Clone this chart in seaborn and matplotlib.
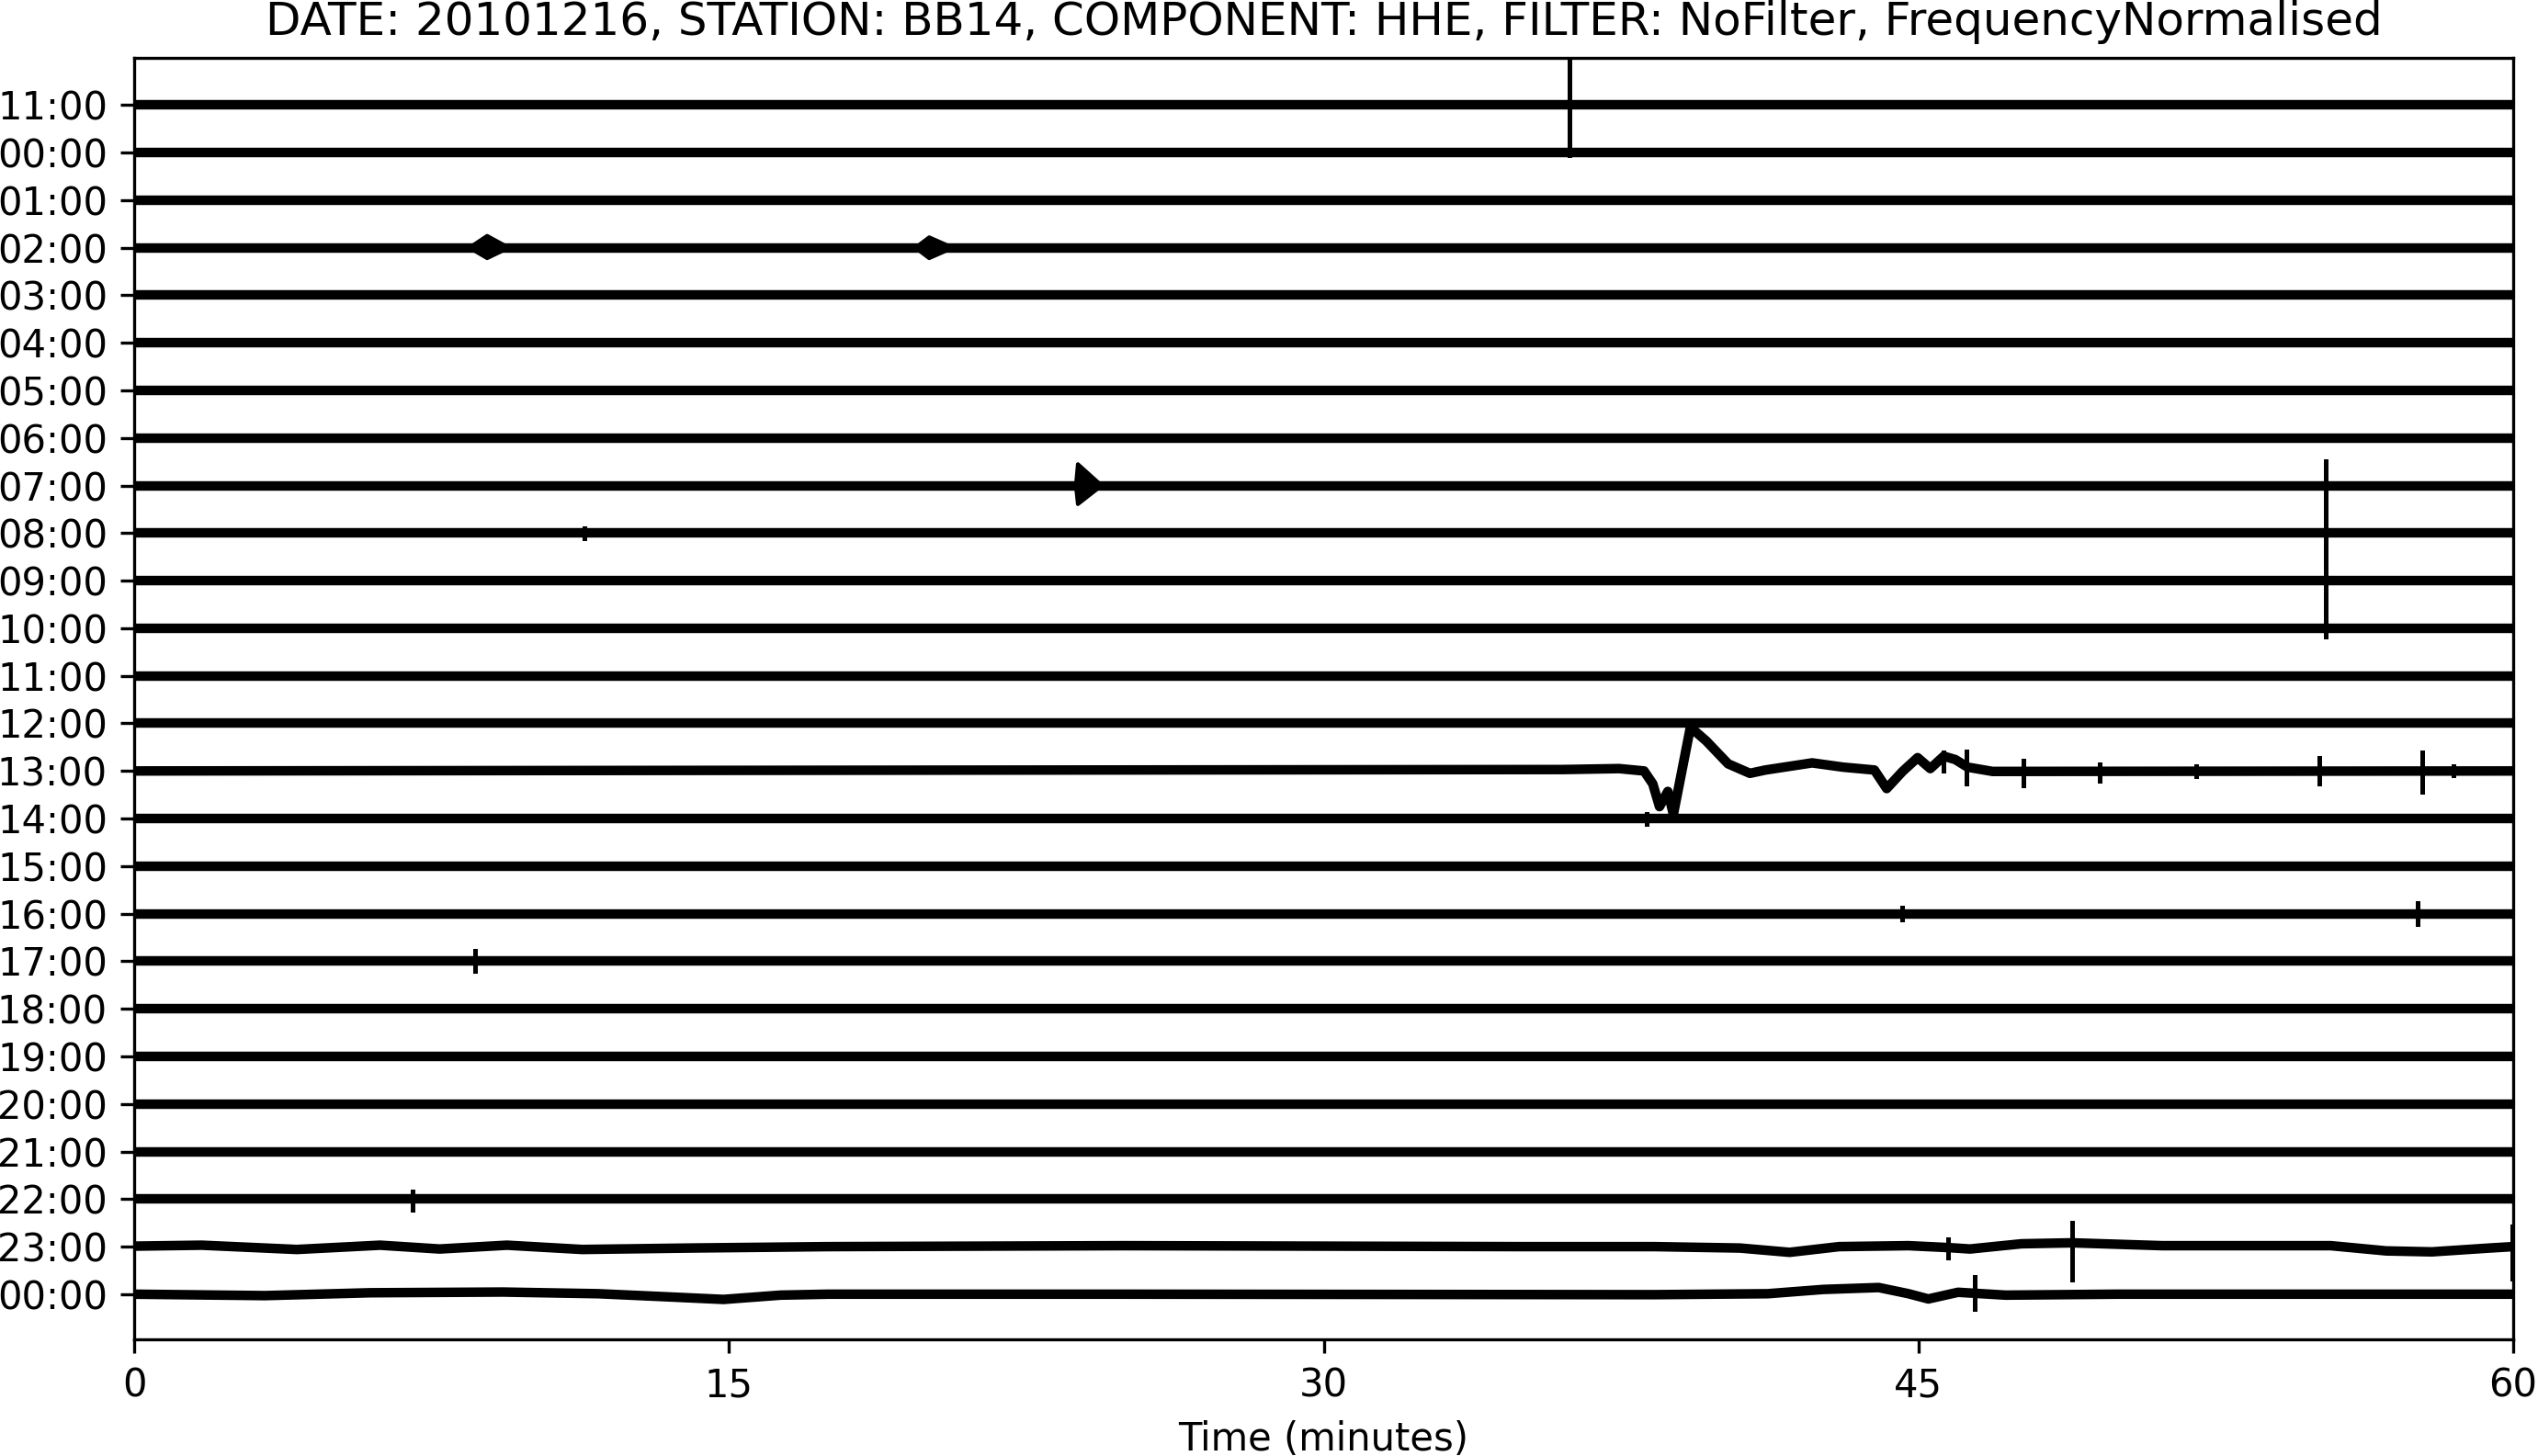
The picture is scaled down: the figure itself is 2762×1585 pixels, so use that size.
import matplotlib
matplotlib.use("Agg")
import matplotlib.pyplot as plt
import pandas as pd
import seaborn as sns

# ---------------- data ----------------
hour_labels = ["11:00", "00:00", "01:00", "02:00", "03:00", "04:00", "05:00",
               "06:00", "07:00", "08:00", "09:00", "10:00", "11:00", "12:00",
               "13:00", "14:00", "15:00", "16:00", "17:00", "18:00", "19:00",
               "20:00", "21:00", "22:00", "23:00", "00:00"]
x_ticks = [0, 15, 30, 45, 60]

# flat traces (rows without visible drift)
flat_minutes = [0, 60]
flat_amp = [0.0, 0.0]

# 13:00 row (index 14): large local event waveform (amplitude in row units, + = up)
row14_minutes = [0, 36.04, 37.45, 38.08, 38.30, 38.47, 38.68, 38.82, 39.25, 39.65,
                 40.20, 40.75, 41.14, 42.32, 43.10, 43.89, 44.20, 44.60, 44.98,
                 45.30, 45.64, 45.93, 46.24, 46.87, 60]
row14_amp = [0.0, 0.03, 0.05, 0.0, -0.27, -0.75, -0.43, -0.91, 0.92, 0.63,
             0.15, -0.05, 0.02, 0.17, 0.08, 0.02, -0.37, -0.01, 0.28,
             0.05, 0.31, 0.24, 0.08, -0.01, 0.0]

# 23:00 row (index 24): slow drift
row24_minutes = [0, 1.7, 4.1, 6.2, 7.7, 9.4, 11.3, 14.0, 17.5, 25.0, 30.0, 35.0,
                 38.35, 40.5, 41.75, 43.0, 44.75, 45.75, 46.3, 47.6, 48.88, 51.15,
                 52.56, 55.4, 56.8, 57.95, 59.4, 60]
row24_amp = [0.01, 0.03, -0.06, 0.03, -0.05, 0.03, -0.06, -0.03, 0.0, 0.02, 0.01, 0.0,
             0.0, -0.03, -0.12, 0.0, 0.02, -0.02, -0.05, 0.06, 0.08, 0.02,
             0.02, 0.02, -0.09, -0.11, -0.03, 0.0]

# 00:00 row (index 25): slow drift
row25_minutes = [0, 3.3, 5.95, 9.3, 11.7, 13.3, 14.86, 16.3, 17.5, 25.0, 38.35,
                 41.2, 42.6, 44.0, 44.75, 45.25, 46.0, 47.2, 50.0, 60]
row25_amp = [0.0, -0.03, 0.03, 0.045, 0.01, -0.05, -0.11, -0.02, 0.0, 0.0, -0.01,
             0.01, 0.10, 0.14, 0.01, -0.10, 0.04, -0.02, 0.0, 0.0]

# sharp spikes: row index, minute, extent up, extent down (row units)
spike_row = [0, 9, 9, 14, 14, 14, 14, 14, 14, 14, 14, 15, 17, 17, 18, 23, 24, 24, 24, 25]
spike_min = [36.2, 55.27, 11.35, 45.64, 46.22, 47.65, 49.57, 52.0, 55.1, 57.7, 58.5,
             38.15, 44.6, 57.6, 8.6, 7.02, 45.75, 48.88, 59.97, 46.43]
spike_up = [1.0, 1.52, 0.10, 0.40, 0.42, 0.21, 0.15, 0.10, 0.28, 0.40, 0.10,
            0.10, 0.12, 0.22, 0.22, 0.16, 0.15, 0.50, 0.43, 0.37]
spike_down = [1.05, 2.17, 0.10, 0.0, 0.27, 0.30, 0.20, 0.12, 0.27, 0.43, 0.10,
              0.12, 0.12, 0.22, 0.20, 0.23, 0.23, 0.69, 0.67, 0.31]

# small wave bursts (spindles): row index, onset/peak minute, extent up, extent down,
# lead-in and coda durations (minutes)
burst_row = [3, 3, 8]
burst_min = [8.9, 20.05, 23.8]
burst_up = [0.25, 0.22, 0.45]
burst_down = [0.22, 0.22, 0.39]
burst_lead = [0.45, 0.35, 0.05]
burst_coda = [0.55, 0.6, 0.6]

title = "DATE: 20101216, STATION: BB14, COMPONENT: HHE, FILTER: NoFilter, FrequencyNormalised"

# ---------------- build tables ----------------
drift_paths = {14: (row14_minutes, row14_amp),
               24: (row24_minutes, row24_amp),
               25: (row25_minutes, row25_amp)}

trace_records = []
for r in range(len(hour_labels)):
    mins, amps = drift_paths.get(r, (flat_minutes, flat_amp))
    for m, a in zip(mins, amps):
        trace_records.append({"trace": r, "minute": m, "y": r - a})
traces = pd.DataFrame(trace_records)

spike_records = []
for i, (r, m, u, d) in enumerate(zip(spike_row, spike_min, spike_up, spike_down)):
    spike_records.append({"spike": i, "minute": m, "y": r - u})
    spike_records.append({"spike": i, "minute": m, "y": r + d})
spikes = pd.DataFrame(spike_records)

burst_records = []
for i, (r, m, u, d, lead, coda) in enumerate(zip(burst_row, burst_min, burst_up,
                                                 burst_down, burst_lead, burst_coda)):
    for bx, by in [(m - lead, r), (m, r - u), (m + coda, r), (m, r + d), (m - lead, r)]:
        burst_records.append({"burst": i, "minute": bx, "y": by})
bursts = pd.DataFrame(burst_records)

# ---------------- plot ----------------
plt.rcParams["font.family"] = ["DejaVu Sans"]
fig = plt.figure(figsize=(2762 / 300, 1585 / 300), dpi=300)
ax = fig.add_axes([0.0529, 0.0801, 0.9373, 0.8801])

sns.lineplot(data=traces, x="minute", y="y", units="trace", estimator=None,
             sort=False, color="black", linewidth=2.5, ax=ax, legend=False)
# spindle bursts: outline with seaborn, filled from the same table
sns.lineplot(data=bursts, x="minute", y="y", units="burst", estimator=None,
             sort=False, color="black", linewidth=1.0, ax=ax, legend=False)
for _, grp in bursts.groupby("burst"):
    ax.fill(grp["minute"], grp["y"], color="black", linewidth=0)
sns.lineplot(data=spikes, x="minute", y="y", units="spike", estimator=None,
             sort=False, color="black", linewidth=1.2, ax=ax, legend=False)

ax.set_xlim(0, 60)
ax.set_xticks(x_ticks)
ax.set_xticklabels([str(t) for t in x_ticks])
ax.set_yticks(range(len(hour_labels)))
ax.set_yticklabels(hour_labels)
ax.set_ylim(25.95, -0.99)
ax.set_xlabel("Time (minutes)", fontsize=10)
ax.set_ylabel("")
ax.tick_params(labelsize=10)
ax.set_title(title, fontsize=12)

fig.savefig("out.png", dpi=300)
